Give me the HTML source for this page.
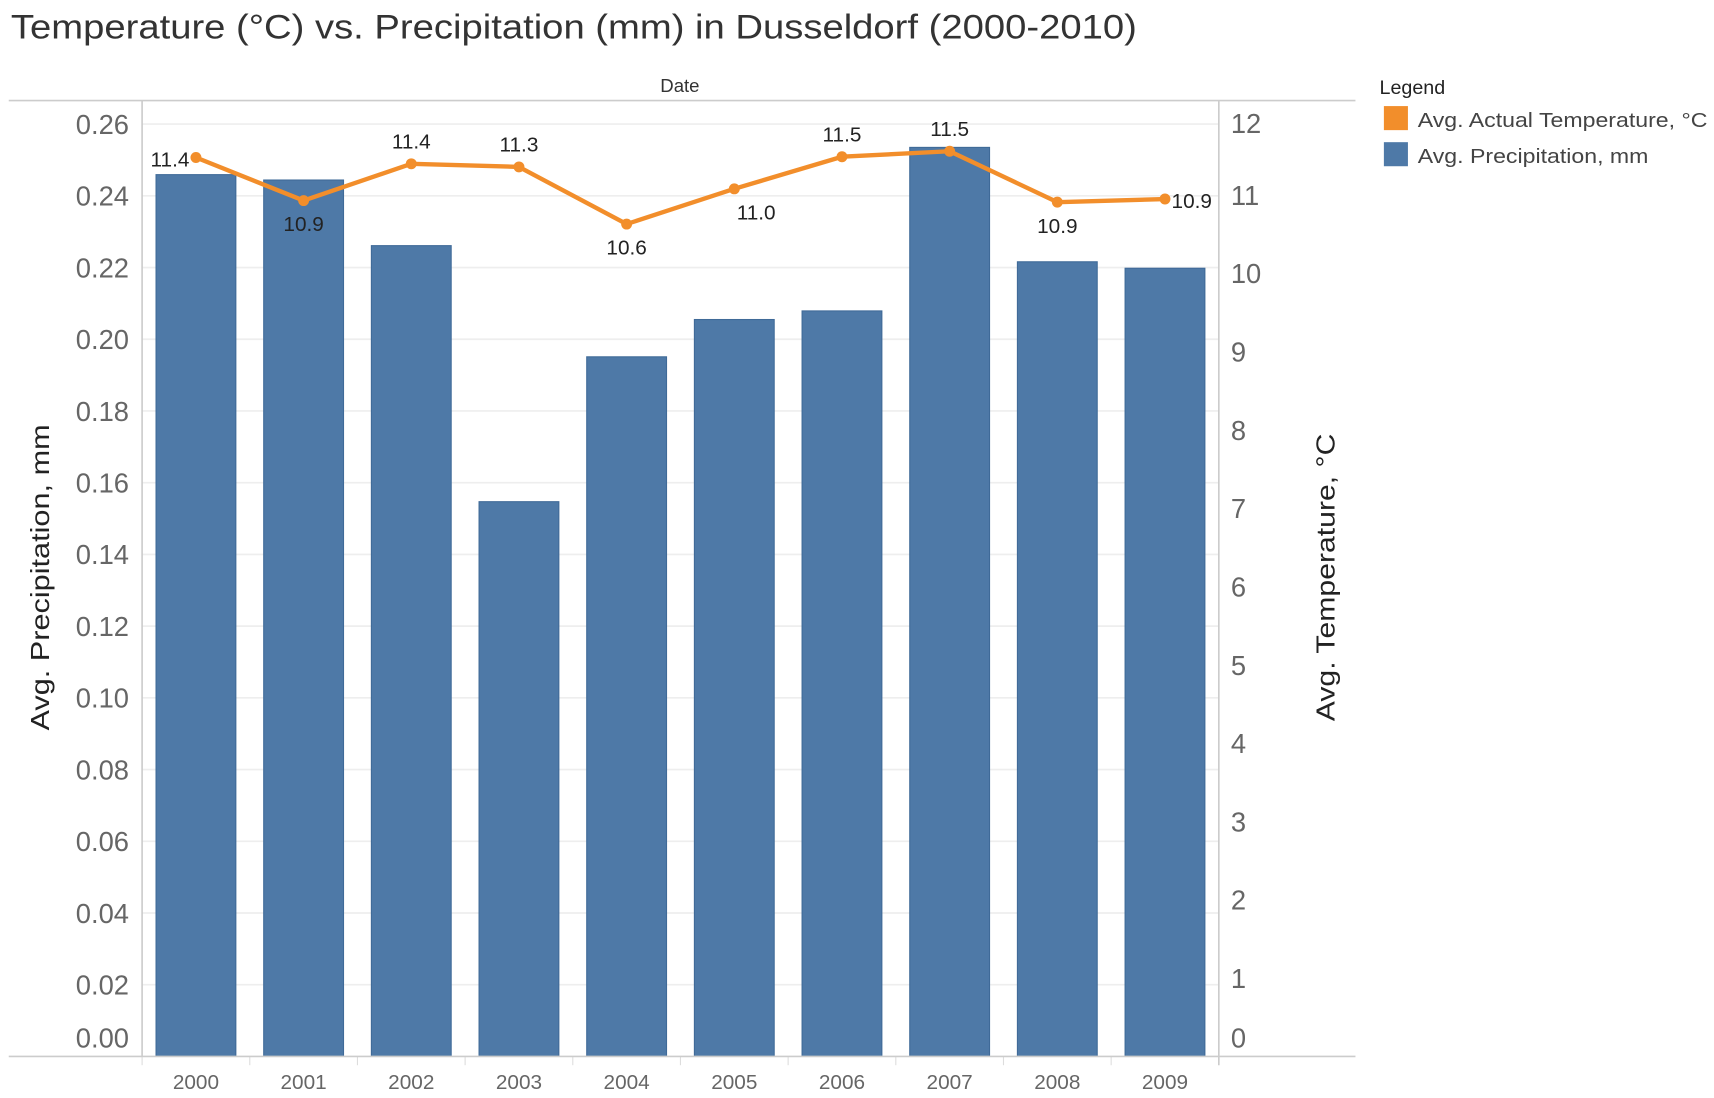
<!DOCTYPE html>
<html><head><meta charset="utf-8"><style>
html,body{margin:0;padding:0;background:#fff;}
svg{display:block;font-family:"Liberation Sans","DejaVu Sans",sans-serif;}
</style></head><body>
<svg id="chart" width="1714" height="1098" viewBox="0 0 1568 1004" preserveAspectRatio="none" xmlns="http://www.w3.org/2000/svg">
<text x="10" y="35" font-size="31" fill="#333" textLength="1030" lengthAdjust="spacingAndGlyphs">Temperature (°C) vs. Precipitation (mm) in Dusseldorf (2000-2010)</text>
<text x="622" y="84" font-size="17" fill="#333" text-anchor="middle">Date</text>
<line x1="8" y1="92" x2="1240" y2="92" stroke="#ccc" stroke-width="1.5"/>
<g id="grid"></g><g id="bars"></g><g id="axes"></g><g id="line"></g>
<text transform="translate(45,528) rotate(-90)" font-size="24" fill="#222" text-anchor="middle" textLength="280" lengthAdjust="spacingAndGlyphs">Avg. Precipitation, mm</text>
<text transform="translate(1221,528) rotate(-90)" font-size="24" fill="#222" text-anchor="middle" textLength="263" lengthAdjust="spacingAndGlyphs">Avg. Temperature, °C</text>
<g>
<text x="1262" y="86" font-size="18" fill="#222">Legend</text>
<rect x="1266" y="97" width="22" height="22" fill="#f28e2b"/>
<text x="1297" y="116" font-size="19" fill="#444" textLength="265" lengthAdjust="spacingAndGlyphs">Avg.  Actual Temperature, °C</text>
<rect x="1266" y="130" width="22" height="22" fill="#4e79a7"/>
<text x="1297" y="149" font-size="19" fill="#444" textLength="211" lengthAdjust="spacingAndGlyphs">Avg. Precipitation, mm</text>
</g>
</svg>
<script>
const years=["2000","2001","2002","2003","2004","2005","2006","2007","2008","2009"];
const precip=[0.2459,0.2444,0.2261,0.1547,0.1951,0.2055,0.2079,0.2535,0.2216,0.2198];
const temp=[11.48,10.93,11.40,11.36,10.63,11.08,11.49,11.56,10.91,10.95];
const tempLabels=["11.4","10.9","11.4","11.3","10.6","11.0","11.5","11.5","10.9","10.9"];
const leftTicks=[0,0.02,0.04,0.06,0.08,0.10,0.12,0.14,0.16,0.18,0.20,0.22,0.24,0.26];
const rightTicks=[0,1,2,3,4,5,6,7,8,9,10,11,12];
const labelPos=["left","below","above","above","below","below-right","above","above","below","right"];
const NS="http://www.w3.org/2000/svg";
const X0=130,X1=1115,Y0=966;
const band=(X1-X0)/years.length;
const xc=i=>X0+band*(i+0.5);
const yL=v=>Y0-v*3279;
const yR=v=>Y0-v*71.6;
function mk(tag,attrs,parent){const e=document.createElementNS(NS,tag);for(const k in attrs)e.setAttribute(k,attrs[k]);parent.appendChild(e);return e;}
const grid=document.getElementById('grid'),bars=document.getElementById('bars'),axes=document.getElementById('axes'),line=document.getElementById('line');
leftTicks.forEach((t,i)=>{
  if(t>0){const g=mk('line',{x1:X0,x2:X1,y1:yL(t),y2:yL(t),stroke:'#eee','stroke-width':1.5},grid);
  
  }
  const ty=t===0?yL(t)-8:yL(t)+9;
  const l=mk('text',{x:118,y:ty,'font-size':25,fill:'#666','text-anchor':'end'},axes);
  l.textContent=t.toFixed(2);
  
  
});
rightTicks.forEach(t=>{
  const ty=t===0?yR(t)-8:(t===12?yR(t)+15:yR(t)+9);
  const l=mk('text',{x:1126,y:ty,'font-size':25,fill:'#666'},axes);
  l.textContent=t;
  
  
});
years.forEach((y,i)=>{
  const b=mk('rect',{x:xc(i)-36.5,y:yL(precip[i]),width:73,height:Y0-yL(precip[i]),fill:'#4e79a7',stroke:'#3f6a98','stroke-width':1},bars);
  
  
  const l=mk('text',{x:xc(i),y:996,'font-size':19,fill:'#666','text-anchor':'middle'},axes);
  l.textContent=y;
  
  
  const tk=mk('line',{x1:X0+band*i,x2:X0+band*i,y1:Y0,y2:Y0+8,stroke:'#ddd'},axes);
  
  
});
const lf=mk('line',{x1:X0,x2:X0,y1:92,y2:Y0,stroke:'#ccc','stroke-width':1.5},axes);


const rt=mk('line',{x1:X1,x2:X1,y1:92,y2:Y0+8,stroke:'#ccc','stroke-width':1.5},axes);


const bt=mk('line',{x1:8,x2:1240,y1:Y0,y2:Y0,stroke:'#ccc','stroke-width':1.5},axes);


const pl=mk('polyline',{points:temp.map((t,i)=>xc(i)+','+yR(t)).join(' '),fill:'none',stroke:'#f28e2b','stroke-width':4,'stroke-linejoin':'round'},line);


temp.forEach((t,i)=>{
  const px=xc(i),py=yR(t);
  const c=mk('circle',{cx:px,cy:py,r:5,fill:'#f28e2b'},line);
  
  
  let lx=px,ly=py,anchor='middle';const p=labelPos[i];
  if(p==='above')ly=py-14;
  else if(p==='below')ly=py+28;
  else if(p==='below-right'){lx=px+20;ly=py+28;}
  else if(p==='left'){lx=px-6;ly=py+8;anchor='end';}
  else if(p==='right'){lx=px+6;ly=py+8;anchor='start';}
  const l=mk('text',{x:lx,y:ly,'font-size':19,fill:'#222','text-anchor':anchor},line);
  l.textContent=tempLabels[i];
  
  
});
</script>
</body></html>
